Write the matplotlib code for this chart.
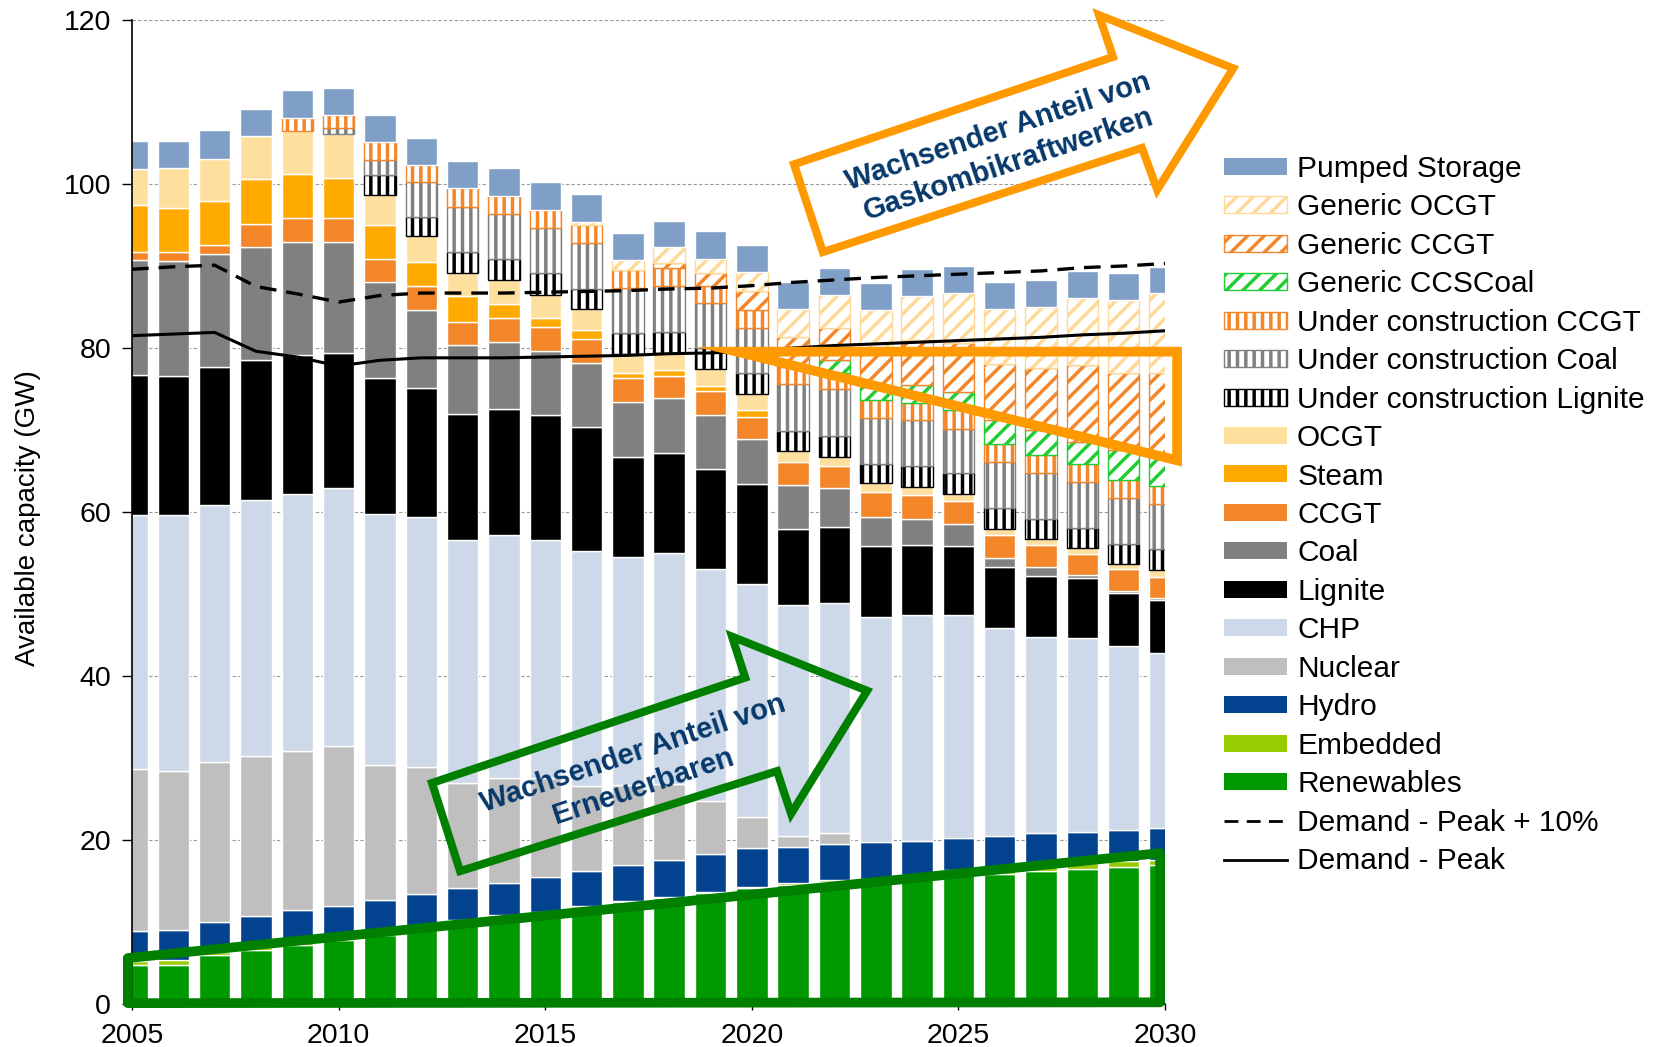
import numpy as np
import matplotlib
matplotlib.use('Agg')
import matplotlib.pyplot as plt
from matplotlib.patches import Patch, Polygon
from matplotlib.lines import Line2D

plt.rcParams['font.family'] = ['Liberation Sans', 'DejaVu Sans']
plt.rcParams['hatch.linewidth'] = 2.5

# ---- data (GW) ----
years = [2005, 2006, 2007, 2008, 2009, 2010, 2011, 2012, 2013, 2014, 2015, 2016, 2017,
         2018, 2019, 2020, 2021, 2022, 2023, 2024, 2025, 2026, 2027, 2028, 2029, 2030]

renewables = [4.8, 4.8, 6.0, 6.6, 7.2, 7.8, 8.4, 9.1, 9.9, 10.5, 11.0, 11.7, 12.4,
              12.9, 13.5, 14.1, 14.5, 14.9, 15.1, 15.4, 15.7, 15.9, 16.2, 16.5, 16.7, 16.9]
embedded = [0.5, 0.6, 0.3, 0.3, 0.3, 0.3, 0.3, 0.3, 0.3, 0.3, 0.2, 0.2, 0.2,
            0.2, 0.2, 0.2, 0.2, 0.2, 0.2, 0.3, 0.6, 0.7, 0.7, 0.7, 0.7, 0.7]
hydro = [3.6, 3.6, 3.7, 3.8, 4.0, 3.9, 4.0, 4.0, 3.9, 4.0, 4.3, 4.3, 4.3,
         4.5, 4.6, 4.7, 4.5, 4.4, 4.4, 4.2, 3.9, 3.9, 3.9, 3.8, 3.8, 3.8]
nuclear = [19.7, 19.4, 19.5, 19.5, 19.4, 19.4, 16.4, 15.5, 12.8, 12.8, 12.0, 10.4, 9.8,
           9.2, 6.5, 3.8, 1.3, 1.3, 0, 0, 0, 0, 0, 0, 0, 0]
chp = [31.0, 31.2, 31.3, 31.3, 31.3, 31.5, 30.6, 30.5, 29.7, 29.6, 29.1, 28.6, 27.8,
       28.2, 28.2, 28.4, 28.2, 28.1, 27.5, 27.5, 27.2, 25.4, 24.0, 23.6, 22.4, 21.4]
lignite = [17.1, 17.0, 16.9, 17.0, 17.0, 16.5, 16.7, 15.7, 15.4, 15.3, 15.2, 15.2, 12.2,
           12.2, 12.2, 12.2, 9.2, 9.3, 8.7, 8.6, 8.5, 7.4, 7.4, 7.3, 6.5, 6.5]
coal = [14.0, 14.0, 13.8, 13.8, 13.7, 13.5, 11.6, 9.5, 8.4, 8.2, 7.8, 7.8, 6.7,
        6.7, 6.6, 5.5, 5.4, 4.7, 3.5, 3.1, 2.6, 1.1, 1.1, 0.4, 0.3, 0.2]
ccgt = [1.0, 1.1, 1.1, 2.8, 2.9, 2.9, 2.9, 2.9, 2.8, 2.9, 2.9, 2.9, 2.9,
        2.7, 3.0, 2.7, 2.8, 2.7, 3.0, 3.0, 2.8, 2.8, 2.7, 2.6, 2.6, 2.6]
steam = [5.7, 5.4, 5.3, 5.5, 5.4, 4.9, 4.1, 3.0, 3.1, 1.8, 1.1, 1.1, 0.6,
         0.7, 0.6, 0.8, 0, 0, 0, 0, 0, 0, 0, 0, 0, 0]
ocgt = [4.4, 4.8, 5.2, 5.2, 5.3, 5.4, 3.6, 3.1, 2.9, 2.9, 2.9, 2.5, 2.4,
        2.1, 2.0, 2.0, 1.3, 1.1, 1.1, 1.0, 0.9, 0.7, 0.7, 0.7, 0.6, 0.8]
uc_lignite = [0, 0, 0, 0, 0, 0, 2.5, 2.4, 2.5, 2.5, 2.6, 2.5, 2.5,
              2.6, 2.6, 2.5, 2.5, 2.6, 2.4, 2.5, 2.5, 2.6, 2.5, 2.4, 2.5, 2.6]
uc_coal = [0, 0, 0, 0, 0, 0.7, 1.8, 4.2, 5.5, 5.6, 5.5, 5.6, 5.5,
           5.6, 5.5, 5.5, 5.7, 5.7, 5.6, 5.6, 5.4, 5.6, 5.5, 5.6, 5.6, 5.5]
uc_ccgt = [0, 0, 0, 0, 1.6, 1.6, 2.2, 2.1, 2.3, 2.1, 2.2, 2.2, 2.2,
           2.2, 2.1, 2.2, 2.1, 2.0, 2.2, 2.1, 2.3, 2.2, 2.2, 2.2, 2.2, 2.2]
gen_ccscoal = [0, 0, 0, 0, 0, 0, 0, 0, 0, 0, 0, 0, 0,
               0, 0, 0, 0, 1.5, 1.6, 2.2, 2.2, 2.9, 3.1, 2.7, 3.7, 3.5]
gen_ccgt = [0, 0, 0, 0, 0, 0, 0, 0, 0, 0, 0, 0, 0,
            0.6, 1.5, 2.3, 3.7, 3.9, 4.7, 5.5, 6.0, 6.8, 7.6, 9.4, 9.3, 10.2]
gen_ocgt = [0, 0, 0, 0, 0, 0, 0, 0, 0, 0, 0, 0.4, 1.2,
            1.9, 1.8, 2.4, 3.4, 4.1, 4.6, 5.3, 6.1, 6.7, 7.4, 8.2, 8.9, 9.8]
pumped = [3.4, 3.4, 3.5, 3.3, 3.4, 3.3, 3.3, 3.3, 3.3, 3.4, 3.4, 3.4, 3.3,
          3.2, 3.4, 3.3, 3.3, 3.3, 3.3, 3.3, 3.3, 3.4, 3.3, 3.3, 3.3, 3.2]

peak = [81.5, 81.7, 81.9, 79.6, 78.9, 77.8, 78.5, 78.8, 78.8, 78.8, 78.9, 79.0, 79.1,
        79.3, 79.4, 79.6, 80.0, 80.3, 80.5, 80.7, 80.9, 81.1, 81.3, 81.6, 81.8, 82.1]
peak_10 = [89.6, 89.9, 90.1, 87.5, 86.6, 85.6, 86.4, 86.7, 86.7, 86.7, 86.8, 86.9, 87.0,
           87.2, 87.3, 87.6, 88.0, 88.3, 88.6, 88.8, 89.0, 89.2, 89.4, 89.8, 90.0, 90.3]

# annotation shapes (year, GW)
green_box = [(2004.9, 0.1), (2004.9, 5.6), (2029.88, 18.4), (2029.88, 0.2)]
orange_tri = [(2019.64, 79.55), (2030.29, 79.55), (2030.29, 66.3)]
orange_arrow = [(2021.02, 102.4), (2028.74, 115.5), (2028.40, 120.6), (2031.65, 114.1),
                (2029.81, 99.3), (2029.44, 104.4), (2021.72, 91.7)]
green_arrow = [(2012.26, 26.95), (2019.84, 39.8), (2019.52, 44.8), (2022.79, 38.2),
               (2020.95, 23.2), (2020.61, 28.4), (2012.94, 16.2)]

# (label, values, face, edge, hatch) bottom -> top
stack = [
    ('Renewables', renewables, '#009900', 'white', None),
    ('Embedded', embedded, '#99cc00', 'white', None),
    ('Hydro', hydro, '#03428f', 'white', None),
    ('Nuclear', nuclear, '#bfbfbf', 'white', None),
    ('CHP', chp, '#cdd9e8', 'white', None),
    ('Lignite', lignite, '#000000', 'white', None),
    ('Coal', coal, '#808080', 'white', None),
    ('CCGT', ccgt, '#f4862a', 'white', None),
    ('Steam', steam, '#ffaa00', 'white', None),
    ('OCGT', ocgt, '#ffdf9e', 'white', None),
    ('Under construction Lignite', uc_lignite, 'white', '#000000', '||'),
    ('Under construction Coal', uc_coal, 'white', '#808080', '||'),
    ('Under construction CCGT', uc_ccgt, 'white', '#f4862a', '||'),
    ('Generic CCSCoal', gen_ccscoal, 'white', '#22cc33', '//'),
    ('Generic CCGT', gen_ccgt, 'white', '#f4862a', '//'),
    ('Generic OCGT', gen_ocgt, 'white', '#ffd998', '//'),
    ('Pumped Storage', pumped, '#809fc6', 'white', None),
]

fig = plt.figure(figsize=(16.54, 10.47), dpi=100)
ax = fig.add_axes([0.0798, 0.0411, 0.6246, 0.9398])

x = np.array(years)
bottom = np.zeros(len(years))
handles = []
for label, vals, fc, ec, hatch in stack:
    v = np.array(vals, dtype=float)
    m = v > 0
    ax.bar(x[m], v[m], width=0.76, bottom=bottom[m], color=fc, edgecolor=ec,
           hatch=hatch, lw=1, zorder=2)
    bottom += v
    if hatch:
        handles.append(Patch(facecolor='white', edgecolor=ec, hatch=hatch, lw=1, label=label))
    else:
        handles.append(Patch(facecolor=fc, edgecolor='none', label=label))
handles = handles[::-1]

ax.plot(x, peak_10, color='black', lw=2.4, dashes=(5, 3), zorder=3)
ax.plot(x, peak, color='black', lw=2.2, zorder=3)
handles.append(Line2D([0], [0], color='black', lw=2, dashes=(5, 3), label='Demand - Peak + 10%'))
handles.append(Line2D([0], [0], color='black', lw=2, label='Demand - Peak'))

# highlight shapes
ax.add_patch(Polygon(green_box, closed=True, fill=False, edgecolor='#007f00', lw=7,
                     joinstyle='round', zorder=4, clip_on=False))
ax.add_patch(Polygon(orange_tri, closed=True, fill=False, edgecolor='#ff9900', lw=7,
                     joinstyle='miter', zorder=4, clip_on=False))
ax.add_patch(Polygon(orange_arrow, closed=True, fill=False, edgecolor='#ff9900', lw=5.8,
                     joinstyle='miter', zorder=4, clip_on=False))
ax.add_patch(Polygon(green_arrow, closed=True, fill=False, edgecolor='#007f00', lw=5.8,
                     joinstyle='miter', zorder=4, clip_on=False))
ax.text(2026.08, 104.4, 'Wachsender Anteil von\nGaskombikraftwerken', rotation=18.5,
        rotation_mode='anchor', ha='center', va='center', multialignment='center',
        fontsize=21, fontweight='bold', color='#06386b', linespacing=1.25, zorder=5)
ax.text(2017.25, 28.5, 'Wachsender Anteil von\nErneuerbaren', rotation=18.5,
        rotation_mode='anchor', ha='center', va='center', multialignment='center',
        fontsize=21, fontweight='bold', color='#06386b', linespacing=1.3, zorder=5)

ax.set_xlim(2005, 2030)
ax.set_ylim(0, 120)
ax.set_xticks([2005, 2010, 2015, 2020, 2025, 2030])
ax.set_yticks([0, 20, 40, 60, 80, 100, 120])
ax.tick_params(axis='both', labelsize=20.5, direction='out', width=1)
ax.tick_params(axis='y', length=7, pad=8)
ax.tick_params(axis='x', length=4, pad=10)
ax.yaxis.grid(True, ls=(0, (3, 2)), color='#999999', lw=0.8)
ax.set_axisbelow(True)
for s in ['top', 'right']:
    ax.spines[s].set_visible(False)
for s in ['left', 'bottom']:
    ax.spines[s].set_linewidth(1.2)

fig.text(0.0169, 0.5053, 'Available capacity (GW)', rotation=90, ha='center', va='center',
         fontsize=20, family=['Liberation Sans Narrow', 'Liberation Sans'])

ax.legend(handles=handles, loc='upper left', bbox_to_anchor=(0.740, 0.852),
          bbox_transform=fig.transFigure, frameon=False, fontsize=21.5,
          handlelength=2.12, handleheight=0.5, handletextpad=0.33,
          labelspacing=0.35, borderpad=0, borderaxespad=0)

fig.savefig('out.png', dpi=100)
